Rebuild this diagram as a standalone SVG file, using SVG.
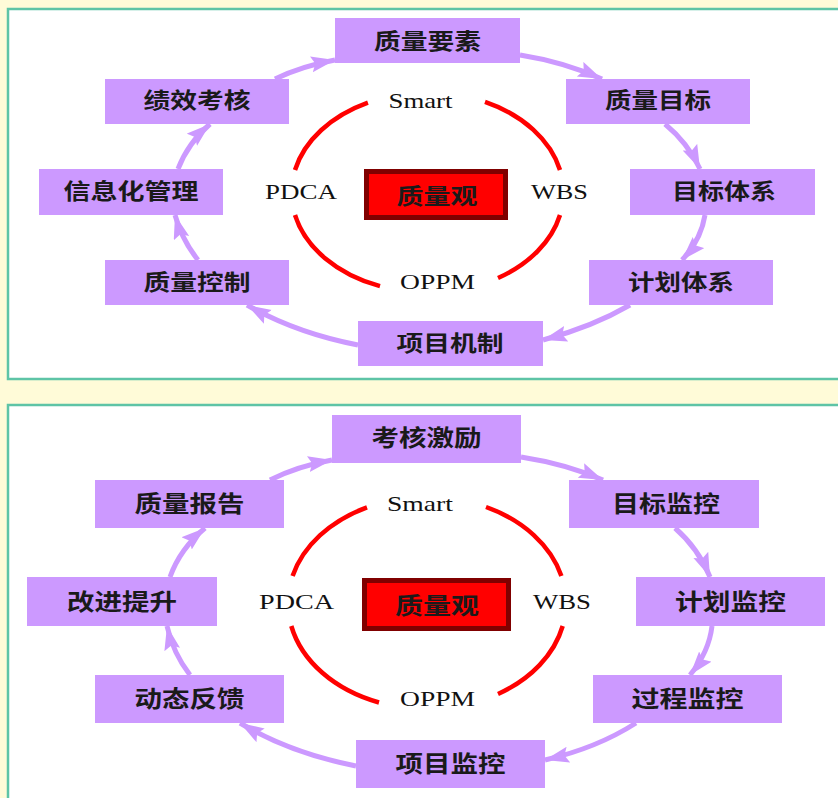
<svg xmlns="http://www.w3.org/2000/svg" width="838" height="798" viewBox="0 0 838 798">
<defs>
<marker id="ah" markerUnits="userSpaceOnUse" markerWidth="26" markerHeight="18" refX="24" refY="8" orient="auto">
<path d="M0,0 L24,8 L0,16 L4,8 Z" fill="#CC99FF"/>
</marker>
<style>
.panel{fill:#FFFFFF;stroke:#5EC4A6;stroke-width:2.5}
.box{fill:#CC99FF}
.core{fill:#FF0000;stroke:#800000;stroke-width:5}
.cjk{font-family:"Noto Sans CJK SC","Noto Sans CJK TC",sans-serif;font-weight:bold;fill:#1A1A1A;text-anchor:middle}
.lat{font-family:"Liberation Serif","Times New Roman",serif;fill:#111111;text-anchor:middle;font-size:22px}
.arc{fill:none;stroke:#FF0000;stroke-width:4.5}
.con{fill:none;stroke:#CC99FF;stroke-width:5;marker-end:url(#ah)}
</style>
</defs>
<rect width="838" height="798" fill="#FFFBD8"/>
<rect class="panel" x="8" y="9" width="840" height="370"/>
<rect class="panel" x="8" y="405" width="840" height="400"/>

<!-- Top panel red ellipse arcs -->
<g id="ring1">
<path class="arc" d="M367.9,102.6 A136,100 0 0 0 295,170"/>
<path class="arc" d="M295,215 A136,100 0 0 0 380,286.2"/>
<path class="arc" d="M498,278 A136,100 0 0 0 560,215"/>
<path class="arc" d="M560,170 A136,100 0 0 0 485,101.9"/>
</g>
<g id="labels1">
<text class="lat" x="420.5" y="108" textLength="64" lengthAdjust="spacingAndGlyphs">Smart</text>
<text class="lat" x="301" y="199" textLength="72" lengthAdjust="spacingAndGlyphs">PDCA</text>
<text class="lat" x="559.5" y="199" textLength="57" lengthAdjust="spacingAndGlyphs">WBS</text>
<text class="lat" x="437.5" y="289" textLength="75" lengthAdjust="spacingAndGlyphs">OPPM</text>
</g>
<g id="core1">
<rect class="core" x="366.5" y="171.5" width="139" height="46"/>
<text class="cjk" x="437" y="204" font-size="22" textLength="81" lengthAdjust="spacingAndGlyphs">质量观</text>
</g>

<g id="connectors1">
<path class="con" d="M275,79 Q302,66 335,60"/>
<path class="con" d="M520,55 Q564,62 602,79"/>
<path class="con" d="M665,124 Q688,143 700,169"/>
<path class="con" d="M705,215 Q701,240 682,260"/>
<path class="con" d="M630,305 Q592,327 543,340"/>
<path class="con" d="M358,345 Q296,333 247,305"/>
<path class="con" d="M198,260 Q182,240 175,215"/>
<path class="con" d="M178,169 Q188,143 210,124"/>
</g>

<g id="n1-zlys"><rect class="box" x="335" y="18" width="185" height="45"/><text class="cjk" x="427.5" y="48.5" font-size="22" textLength="107" lengthAdjust="spacingAndGlyphs">质量要素</text></g>
<g id="n1-zlmb"><rect class="box" x="566" y="79" width="184" height="45"/><text class="cjk" x="658" y="108" font-size="22" textLength="106" lengthAdjust="spacingAndGlyphs">质量目标</text></g>
<g id="n1-mbtx"><rect class="box" x="630" y="169" width="185" height="46"/><text class="cjk" x="724" y="199" font-size="22" textLength="104" lengthAdjust="spacingAndGlyphs">目标体系</text></g>
<g id="n1-jhtx"><rect class="box" x="589" y="260" width="184" height="45"/><text class="cjk" x="681" y="290" font-size="22" textLength="106" lengthAdjust="spacingAndGlyphs">计划体系</text></g>
<g id="n1-xmjz"><rect class="box" x="358" y="321" width="185" height="45"/><text class="cjk" x="450" y="351" font-size="22" textLength="107" lengthAdjust="spacingAndGlyphs">项目机制</text></g>
<g id="n1-zlkz"><rect class="box" x="105" y="260" width="184" height="45"/><text class="cjk" x="197" y="290" font-size="22" textLength="107" lengthAdjust="spacingAndGlyphs">质量控制</text></g>
<g id="n1-xxhgl"><rect class="box" x="39" y="169" width="184" height="46"/><text class="cjk" x="131" y="199" font-size="22" textLength="135" lengthAdjust="spacingAndGlyphs">信息化管理</text></g>
<g id="n1-jxkh"><rect class="box" x="105" y="79" width="184" height="45"/><text class="cjk" x="197" y="108" font-size="22" textLength="107" lengthAdjust="spacingAndGlyphs">绩效考核</text></g>

<!-- Bottom panel -->
<g id="ring2">
<path class="arc" d="M367,507.4 A139,106 0 0 0 292.6,576"/>
<path class="arc" d="M291.3,626 A139,106 0 0 0 379,702.5"/>
<path class="arc" d="M498,694 A139,106 0 0 0 562.7,626"/>
<path class="arc" d="M561.4,576 A139,106 0 0 0 486,507"/>
</g>
<g id="labels2">
<text class="lat" x="420" y="511" textLength="66" lengthAdjust="spacingAndGlyphs">Smart</text>
<text class="lat" x="296.5" y="609" textLength="75" lengthAdjust="spacingAndGlyphs">PDCA</text>
<text class="lat" x="562" y="609" textLength="58" lengthAdjust="spacingAndGlyphs">WBS</text>
<text class="lat" x="437.5" y="706" textLength="75" lengthAdjust="spacingAndGlyphs">OPPM</text>
</g>
<g id="core2">
<rect class="core" x="364.5" y="580.5" width="144" height="48"/>
<text class="cjk" x="437" y="614" font-size="23" textLength="84" lengthAdjust="spacingAndGlyphs">质量观</text>
</g>

<g id="connectors2">
<path class="con" d="M270,480 Q298,466 332,460"/>
<path class="con" d="M521,457 Q566,464 603,480"/>
<path class="con" d="M675,528 Q698,548 710,577"/>
<path class="con" d="M712,626 Q709,652 690,675"/>
<path class="con" d="M636,723 Q597,748 545,760"/>
<path class="con" d="M356,766 Q290,753 240,723"/>
<path class="con" d="M190,675 Q173,653 167,626"/>
<path class="con" d="M170,577 Q180,549 205,528"/>
</g>

<g id="n2-khjl"><rect class="box" x="332" y="415" width="189" height="48"/><text class="cjk" x="426.5" y="446" font-size="23" textLength="110" lengthAdjust="spacingAndGlyphs">考核激励</text></g>
<g id="n2-mbjk"><rect class="box" x="569" y="480" width="190" height="48"/><text class="cjk" x="666" y="512" font-size="23" textLength="108" lengthAdjust="spacingAndGlyphs">目标监控</text></g>
<g id="n2-jhjk"><rect class="box" x="636" y="577" width="189" height="49"/><text class="cjk" x="730.5" y="610" font-size="23" textLength="111" lengthAdjust="spacingAndGlyphs">计划监控</text></g>
<g id="n2-gcjk"><rect class="box" x="593" y="675" width="189" height="48"/><text class="cjk" x="687.5" y="707" font-size="23" textLength="112" lengthAdjust="spacingAndGlyphs">过程监控</text></g>
<g id="n2-xmjk"><rect class="box" x="356" y="740" width="189" height="48"/><text class="cjk" x="450.5" y="772" font-size="23" textLength="110" lengthAdjust="spacingAndGlyphs">项目监控</text></g>
<g id="n2-dtfk"><rect class="box" x="95" y="675" width="189" height="48"/><text class="cjk" x="189.5" y="707" font-size="23" textLength="110" lengthAdjust="spacingAndGlyphs">动态反馈</text></g>
<g id="n2-gjts"><rect class="box" x="27" y="577" width="190" height="49"/><text class="cjk" x="122" y="610" font-size="23" textLength="110" lengthAdjust="spacingAndGlyphs">改进提升</text></g>
<g id="n2-zlbg"><rect class="box" x="95" y="480" width="189" height="48"/><text class="cjk" x="189.5" y="512" font-size="23" textLength="110" lengthAdjust="spacingAndGlyphs">质量报告</text></g>
</svg>
